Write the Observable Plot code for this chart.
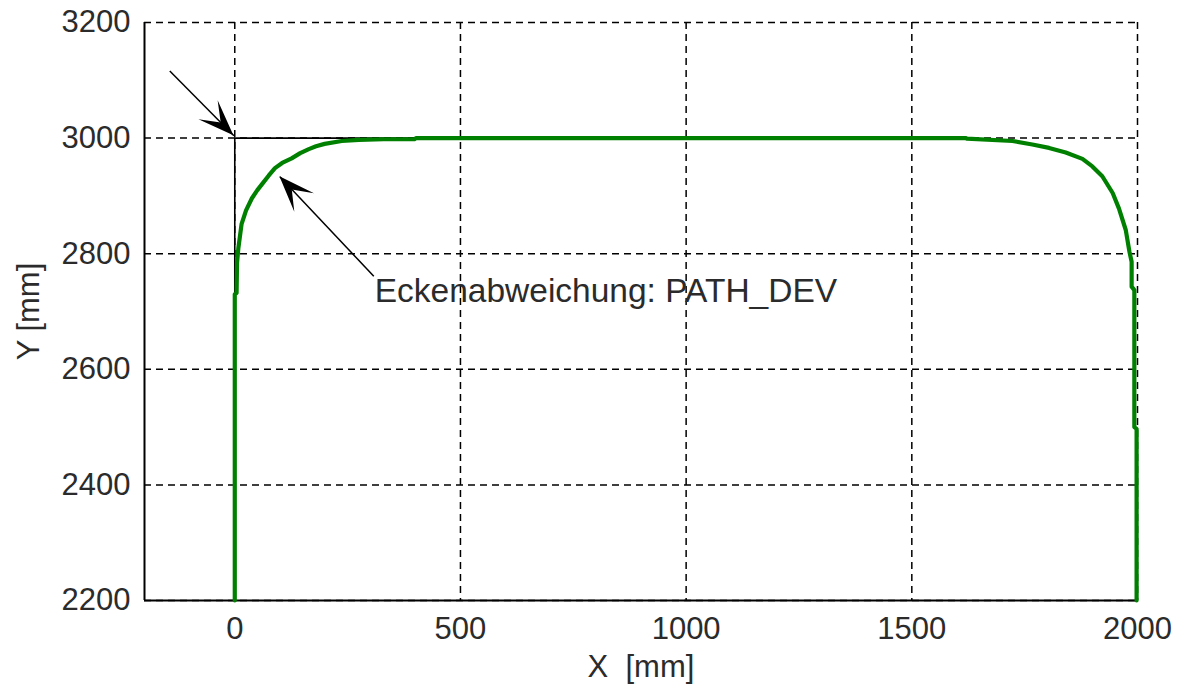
<!DOCTYPE html>
<html>
<head>
<meta charset="utf-8">
<script src="https://cdn.jsdelivr.net/npm/d3@7"></script>
<script src="https://cdn.jsdelivr.net/npm/@observablehq/plot@0.6"></script>
<style>
  html, body { margin: 0; padding: 0; background: #fff; }
  #chart svg { display: block; }
</style>
</head>
<body>
<div id="chart"></div>
<script>
// Actual tool path (green)
const pathX = [0, 0, 4, 5, 8, 15, 25, 38, 50, 60, 75, 89, 105, 126, 145, 164, 180, 199, 237, 275, 330, 398, 402,
  1620, 1622, 1723, 1767, 1804, 1841, 1878, 1900, 1922, 1945, 1959, 1974, 1982, 1987, 1987, 1993, 1993, 1998, 1998];
const pathY = [2200, 2730, 2732, 2784, 2810, 2851, 2875, 2896, 2910, 2920, 2935, 2948, 2957, 2965, 2974, 2981, 2986, 2990, 2995, 2997, 2998, 2998, 3000,
  3000, 2999, 2995, 2989, 2983, 2975, 2964, 2951, 2934, 2905, 2878, 2841, 2804, 2786, 2743, 2737, 2500, 2497, 2200];

// Programmed contour (black)
const progX = [0, 0, 400];
const progY = [2200, 3000, 3000];

// Ticks
const xTicks = [0, 500, 1000, 1500, 2000];
const yTicks = [2200, 2400, 2600, 2800, 3000, 3200];

// Annotation arrows: start -> tip
const arrowX1 = [-144, 308];
const arrowY1 = [3116, 2761];
const arrowX2 = [-2, 100];
const arrowY2 = [3004, 2933];

const labelText = ["Eckenabweichung: PATH_DEV"];
const labelX = [310];
const labelY = [2735];

const green = pathX.map((x, i) => ({x, y: pathY[i]}));
const prog = progX.map((x, i) => ({x, y: progY[i]}));
const arrows = arrowX1.map((x1, i) => ({x1, y1: arrowY1[i], x2: arrowX2[i], y2: arrowY2[i]}));
const labels = labelText.map((t, i) => ({t, x: labelX[i], y: labelY[i]}));

const font = "'Liberation Sans', Arial, sans-serif";
const textColor = "#2b2b2b";

const chart = Plot.plot({
  width: 1181,
  height: 690,
  marginLeft: 144,
  marginRight: 44,
  marginTop: 22,
  marginBottom: 90,
  style: {fontFamily: font, fontSize: "31px", color: textColor, background: "#fff"},
  x: {domain: [-200, 2000]},
  y: {domain: [2200, 3200]},
  marks: [
    Plot.gridX(xTicks, {stroke: "#000", strokeOpacity: 1, strokeWidth: 1.5, strokeDasharray: "7,5"}),
    Plot.gridY(yTicks, {stroke: "#000", strokeOpacity: 1, strokeWidth: 1.5, strokeDasharray: "7,5"}),
    Plot.ruleX([-200], {stroke: "#000", strokeWidth: 2}),
    Plot.ruleY([2200], {stroke: "#000", strokeWidth: 2}),
    Plot.axisX(xTicks, {tickSize: 0, tickPadding: 16, fontSize: 31, tickFormat: d => String(d), label: "X\u00a0\u00a0[mm]", labelAnchor: "center", labelArrow: "none", labelOffset: 76}),
    Plot.axisY(yTicks, {tickSize: 0, tickPadding: 14, fontSize: 31, tickFormat: d => String(d), label: "Y [mm]", labelAnchor: "center", labelArrow: "none", labelOffset: 128}),
    Plot.line(prog, {x: "x", y: "y", stroke: "#000", strokeWidth: 1.6}),
    Plot.line(green, {x: "x", y: "y", stroke: "#008000", strokeWidth: 4.2, curve: "linear"}),
    Plot.link(arrows, {x1: "x1", y1: "y1", x2: "x2", y2: "y2", stroke: "#000", strokeWidth: 1.5}),
    (index, scales) => {
      const g = d3.create("svg:g").attr("fill", "#000");
      for (const a of arrows) {
        const sx = scales.x(a.x1), sy = scales.y(a.y1);
        const tx = scales.x(a.x2), ty = scales.y(a.y2);
        const ang = Math.atan2(ty - sy, tx - sx) * 180 / Math.PI;
        g.append("path")
          .attr("d", "M0,0L-36,-13.5L-18,0L-36,13.5Z")
          .attr("transform", `translate(${tx},${ty}) rotate(${ang})`);
      }
      return g.node();
    },
    Plot.text(labels, {x: "x", y: "y", text: "t", textAnchor: "start", fontSize: 33.5, fill: textColor})
  ]
});
document.getElementById("chart").append(chart);
</script>
</body>
</html>
